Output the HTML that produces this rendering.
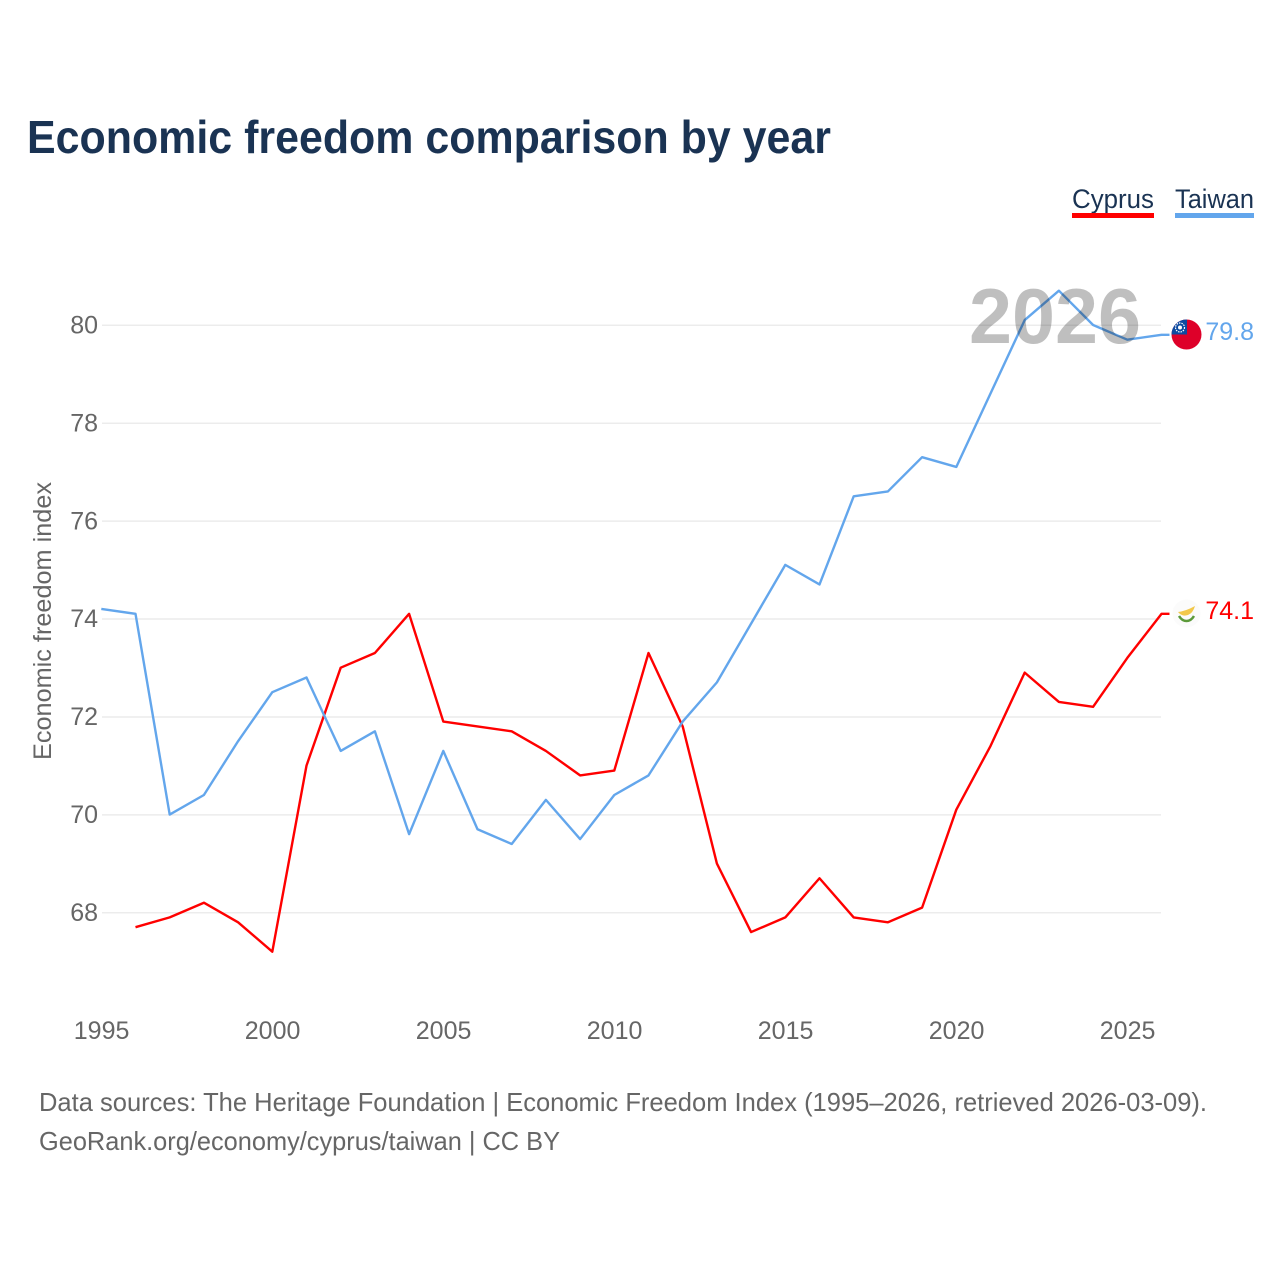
<!DOCTYPE html>
<html lang="en">
<head>
<meta charset="utf-8">
<title>Economic freedom comparison by year</title>
<style>
html,body{margin:0;padding:0;background:#fff;}
svg{display:block;font-family:"Liberation Sans",sans-serif;}
</style>
</head>
<body>
<svg id="chart" width="1280" height="1280" viewBox="0 0 1280 1280" xmlns="http://www.w3.org/2000/svg">
  <rect width="1280" height="1280" fill="#fff"/>
  <text x="27" y="153" font-size="46" font-weight="700" fill="#1a3353" textLength="804" lengthAdjust="spacingAndGlyphs">Economic freedom comparison by year</text>

  <g>
    <g>
      <text x="1072" y="208" font-size="27" fill="#1a3353" textLength="82" lengthAdjust="spacingAndGlyphs">Cyprus</text>
      <rect x="1072" y="213" width="82" height="5" fill="#ff0000"/>
    </g>
    <g>
      <text x="1175" y="208" font-size="27" fill="#1a3353" textLength="79" lengthAdjust="spacingAndGlyphs">Taiwan</text>
      <rect x="1175" y="213" width="79" height="5" fill="#63a6ec"/>
    </g>
  </g>

  <text transform="translate(51 621) rotate(-90)" text-anchor="middle" font-size="25" fill="#666" textLength="278" lengthAdjust="spacingAndGlyphs">Economic freedom index</text>

  <g id="grid"></g>
  <g id="yticks"></g>
  <g id="xticks"></g>
  <g id="series"></g>

  <text x="969" y="343" font-size="78" font-weight="700" fill="#000" fill-opacity="0.25" textLength="172" lengthAdjust="spacingAndGlyphs">2026</text>

  <g>
    <clipPath id="tw-clip"><circle cx="1186.5" cy="334.5" r="15"/></clipPath>
    <g clip-path="url(#tw-clip)">
      <rect x="1171" y="319" width="31" height="31" fill="#de0029"/>
      <rect x="1171" y="319" width="16" height="15.5" fill="#0c4aa0"/>
      <circle cx="1180" cy="327.5" r="4.5" fill="none" stroke="#fff" stroke-width="1.2" stroke-dasharray="1.5 1"/>
      <circle cx="1180" cy="327.5" r="2" fill="#fff"/>
    </g>
  </g>
  <g>
    <circle cx="1186.5" cy="613.5" r="14" fill="#fbfbfb"/>
    <path d="M1178 612 Q1186 611 1195 606 Q1193 613 1188 615 Q1182 617 1178 612 Z" fill="#f2c84b"/>
    <path d="M1179 616 Q1182 621 1186.5 621 Q1191 621 1194 616" fill="none" stroke="#5c9a3a" stroke-width="2.5"/>
  </g>

  <text id="label-taiwan" x="1254" y="340" text-anchor="end" font-size="25" fill="#63a6ec"></text>
  <text id="label-cyprus" x="1254" y="619" text-anchor="end" font-size="25" fill="#ff0000"></text>

  <text x="39" y="1111" font-size="26" fill="#666" textLength="1168" lengthAdjust="spacingAndGlyphs">Data sources: The Heritage Foundation | Economic Freedom Index (1995–2026, retrieved 2026-03-09).</text>
  <text x="39" y="1150" font-size="26" fill="#666" textLength="521" lengthAdjust="spacingAndGlyphs">GeoRank.org/economy/cyprus/taiwan | CC BY</text>
</svg>
<script>
const years = [1995,1996,1997,1998,1999,2000,2001,2002,2003,2004,2005,2006,2007,2008,2009,2010,2011,2012,2013,2014,2015,2016,2017,2018,2019,2020,2021,2022,2023,2024,2025,2026];
const taiwanValues = [74.2,74.1,70,70.4,71.5,72.5,72.8,71.3,71.7,69.6,71.3,69.7,69.4,70.3,69.5,70.4,70.8,71.9,72.7,73.9,75.1,74.7,76.5,76.6,77.3,77.1,78.6,80.1,80.7,80.0,79.7,79.8];
const cyprusValues = [null,67.7,67.9,68.2,67.8,67.2,71,73,73.3,74.1,71.9,71.8,71.7,71.3,70.8,70.9,73.3,71.8,69,67.6,67.9,68.7,67.9,67.8,68.1,70.1,71.4,72.9,72.3,72.2,73.2,74.1];
const yTickValues = [68,70,72,74,76,78,80];
const xTickValues = [1995,2000,2005,2010,2015,2020,2025];

const NS = 'http://www.w3.org/2000/svg';
const xScale = function (year) { return 101.3 + (year - 1995) * 34.2; };
const yScale = function (value) { return 912.5 - (value - 68) * 48.96; };

function make(tag, attrs, parent) {
  const el = document.createElementNS(NS, tag);
  Object.keys(attrs).forEach(function (k) { el.setAttribute(k, attrs[k]); });
  parent.appendChild(el);
  return el;
}

const gridLayer = document.getElementById('grid');
const yTickLayer = document.getElementById('yticks');
const xTickLayer = document.getElementById('xticks');
const seriesLayer = document.getElementById('series');

yTickValues.forEach(function (v) {
  const line = make('line', {x1: 102, x2: 1161, y1: yScale(v) + 0.3, y2: yScale(v) + 0.3, stroke: '#ececec', 'stroke-width': 1.5}, gridLayer);
  
  
  const label = make('text', {x: 98, y: yScale(v) + 8.5, 'text-anchor': 'end', 'font-size': 25, fill: '#666'}, yTickLayer);
  label.textContent = String(v);
  
  
});

xTickValues.forEach(function (y) {
  const label = make('text', {x: xScale(y) + 0.3, y: 1039, 'text-anchor': 'middle', 'font-size': 25, fill: '#666'}, xTickLayer);
  label.textContent = String(y);
  
  
});

function linePath(values) {
  const parts = [];
  values.forEach(function (v, i) {
    if (v === null) return;
    parts.push((parts.length ? 'L' : 'M') + xScale(years[i]).toFixed(2) + ' ' + yScale(v).toFixed(2));
  });
  const last = values[values.length - 1];
  parts.push('L' + (xScale(years[years.length - 1]) + 8).toFixed(2) + ' ' + yScale(last).toFixed(2));
  return parts.join(' ');
}

const cyprusLine = make('path', {d: linePath(cyprusValues), fill: 'none', stroke: '#ff0000', 'stroke-width': 2.4, 'stroke-linejoin': 'round'}, seriesLayer);



const taiwanLine = make('path', {d: linePath(taiwanValues), fill: 'none', stroke: '#63a6ec', 'stroke-width': 2.4, 'stroke-linejoin': 'round'}, seriesLayer);



document.getElementById('label-taiwan').textContent = taiwanValues[taiwanValues.length - 1].toFixed(1);
document.getElementById('label-cyprus').textContent = cyprusValues[cyprusValues.length - 1].toFixed(1);
</script>
</body>
</html>
